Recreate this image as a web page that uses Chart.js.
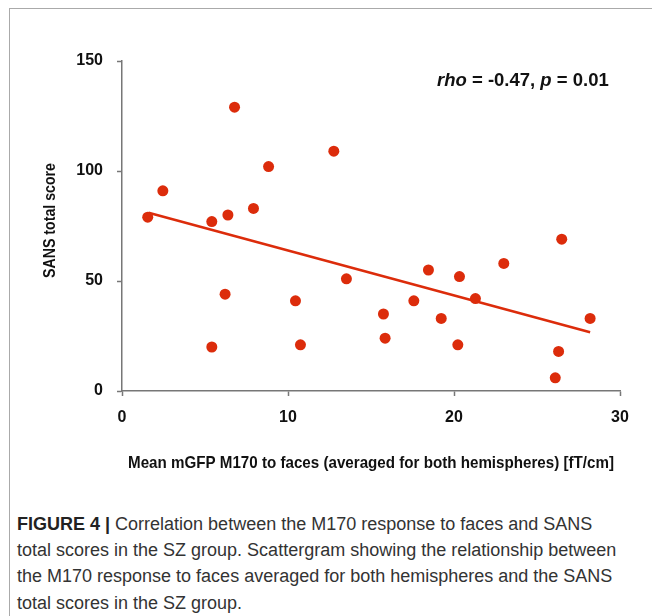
<!DOCTYPE html>
<html>
<head>
<meta charset="utf-8">
<script src="https://cdn.jsdelivr.net/npm/chart.js@4"></script>
<style>
  html, body { margin: 0; padding: 0; background: #fff; }
  body { width: 652px; height: 616px; position: relative; overflow: hidden; }
  #frame { position: absolute; left: 9px; top: 8px; right: 0; bottom: 0;
           border-top: 1.5px solid #aaa; border-left: 1.5px solid #aaa; }
  #wrap { position: absolute; left: 0; top: 0; width: 652px; height: 480px; }
  #caption { position: absolute; left: 17px; top: 511px; width: 634px; white-space: nowrap;
             font-family: 'Liberation Sans', Arial, sans-serif; font-size: 18px;
             line-height: 26.2px; color: #333; }
  #caption b { color: #222; }
</style>
</head>
<body>
<div id="frame"></div>
<div id="wrap"><canvas id="chart" width="652" height="480"></canvas></div>
<div id="caption"><b>FIGURE 4 |</b> Correlation between the M170 response to faces and SANS<br>total scores in the SZ group. Scattergram showing the relationship between<br>the M170 response to faces averaged for both hemispheres and the SANS<br>total scores in the SZ group.</div>
<script>
// mean mGFP M170 (fT/cm) and SANS total score
const mgfp = [1.55, 2.46, 5.41, 5.41, 6.21, 6.38, 6.78, 7.92, 8.83, 10.45, 10.75, 12.76, 13.52,
              15.75, 15.85, 17.58, 18.46, 19.23, 20.23, 20.33, 21.29, 23.0, 26.1, 26.3, 26.49, 28.2];
const sans = [79, 91, 77, 20, 44, 80, 129, 83, 102, 41, 21, 109, 51,
              35, 24, 41, 55, 33, 21, 52, 42, 58, 6, 18, 69, 33];
// regression line end points
const fitX = [1.6, 28.2];
const fitY = [81, 26.7];
const xTicks = [0, 10, 20, 30];
const yTicks = [0, 50, 100, 150];
const xTitle = 'Mean mGFP M170 to faces (averaged for both hemispheres) [fT/cm]';
const yTitle = 'SANS total score';
const statText = ['rho', ' = -0.47, ', 'p', ' = 0.01'];

const RED = '#dc2c0b';
const AXIS = '#777';
const FAMILY = "'Liberation Sans', Arial, sans-serif";
const tickFont = { family: FAMILY, size: 16, weight: 'bold' };

// axis titles drawn squeezed (the original uses a condensed face) + the stats label
const textPlugin = {
  id: 'texts',
  afterDraw(chart) {
    const ctx = chart.ctx;
    const a = chart.chartArea;
    ctx.save();
    ctx.fillStyle = '#111';
    ctx.textBaseline = 'middle';
    ctx.textAlign = 'center';
    ctx.font = 'bold 16.5px ' + FAMILY;
    ctx.fillText(xTitle, (a.left + a.right) / 2, 463, 486);
    ctx.save();
    ctx.translate(50, 220.5);
    ctx.rotate(-Math.PI / 2);
    ctx.fillText(yTitle, 0, 0, 115);
    ctx.restore();
    ctx.textAlign = 'left';
    let x = 437;
    statText.forEach((s, i) => {
      ctx.font = (i % 2 === 0 ? 'italic ' : '') + 'bold 18.5px ' + FAMILY;
      ctx.fillText(s, x, 81);
      x += ctx.measureText(s).width;
    });
    ctx.restore();
  }
};

new Chart(document.getElementById('chart'), {
  type: 'scatter',
  data: {
    datasets: [{
      label: 'SZ',
      data: mgfp.map((v, i) => ({ x: v, y: sans[i] })),
      backgroundColor: RED,
      borderColor: RED,
      pointRadius: 5.5,
      pointBorderWidth: 0,
    }, {
      label: 'fit',
      type: 'line',
      data: fitX.map((v, i) => ({ x: v, y: fitY[i] })),
      borderColor: RED,
      borderWidth: 2.5,
      pointRadius: 0,
      fill: false,
    }]
  },
  options: {
    responsive: false,
    animation: false,
    layout: { padding: { left: 0, right: 32, top: 61, bottom: 0 } },
    plugins: { legend: { display: false }, tooltip: { enabled: false } },
    scales: {
      x: {
        type: 'linear', min: 0, max: 30,
        afterBuildTicks: s => { s.ticks = xTicks.map(v => ({ value: v })); },
        afterFit: s => { s.height = 89; },
        grid: { drawOnChartArea: false, drawTicks: true, tickLength: 5, tickColor: AXIS, tickWidth: 1.5 },
        border: { color: AXIS, width: 1.5 },
        ticks: { color: '#111', font: tickFont, padding: 12 }
      },
      y: {
        type: 'linear', min: 0, max: 150,
        afterBuildTicks: s => { s.ticks = yTicks.map(v => ({ value: v })); },
        afterFit: s => { s.width = 122; },
        grid: { drawOnChartArea: false, drawTicks: true, tickLength: 5, tickColor: AXIS, tickWidth: 1.5 },
        border: { color: AXIS, width: 1.5 },
        ticks: { color: '#111', font: tickFont, padding: 14 }
      }
    }
  },
  plugins: [textPlugin]
});
</script>
</body>
</html>
